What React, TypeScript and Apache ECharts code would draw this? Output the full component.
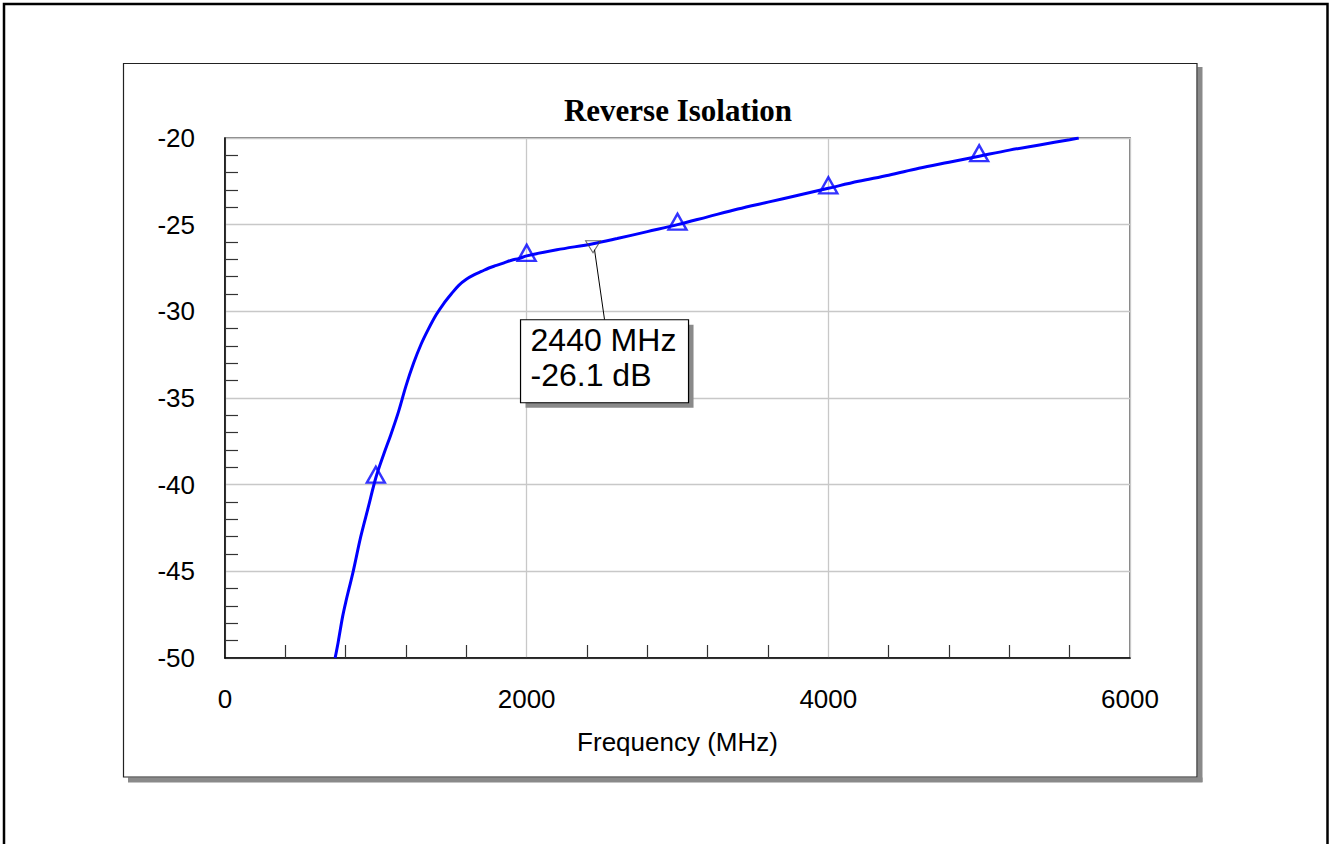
import React, { useEffect, useRef } from "react";
import * as echarts from "echarts";

// Measured reverse isolation (S12) trace, MHz vs dB
const freqMHz = [
  730, 750, 780, 800, 850, 900, 950, 1000, 1050, 1100, 1150, 1200, 1250, 1300,
  1350, 1400, 1450, 1500, 1550, 1600, 1650, 1700, 1750, 1800, 1850, 1900, 1950,
  2000, 2200, 2440, 2600, 2800, 3000, 3200, 3400, 3600, 3800, 4000, 4200, 4400,
  4600, 4800, 5000, 5200, 5400, 5600, 5660,
];
const isolationDb = [
  -50.0, -49.1, -47.6, -46.8, -45.0, -43.0, -41.3, -39.6, -38.3, -37.1, -35.8,
  -34.3, -33.0, -31.9, -31.0, -30.2, -29.55, -29.0, -28.5, -28.15, -27.9, -27.7,
  -27.5, -27.35, -27.2, -27.05, -26.95, -26.8, -26.45, -26.1, -25.8, -25.4,
  -25.0, -24.55, -24.1, -23.7, -23.3, -22.9, -22.5, -22.15, -21.75, -21.4,
  -21.05, -20.7, -20.4, -20.1, -20.0,
];

// Trace symbols (up triangles)
const markerFreqs = [1000, 2000, 3000, 4000, 5000];
const markerDb = [-39.6, -26.8, -25.0, -22.9, -21.05];

// Marker readout
const readoutFreq = 2440;
const readoutDb = -26.1;
const readoutLines = ["2440 MHz", "-26.1 dB"];

// Axes
const xMin = 0;
const xMax = 6000;
const xStep = 2000;
const yMin = -50;
const yMax = -20;
const yStep = 5;

const titleText = "Reverse Isolation";
const xAxisTitle = "Frequency (MHz)";

export default function App() {
  const ref = useRef<HTMLDivElement>(null);

  useEffect(() => {
    document.body.style.margin = "0";
    if (!ref.current) return;
    const chart = echarts.init(ref.current, undefined, { renderer: "svg" });
    const sans = "'Liberation Sans', Arial, sans-serif";

    const option: any = {
      animation: false,
      backgroundColor: "#ffffff",
      title: {
        text: titleText,
        left: 673,
        top: 90,
        textAlign: "center",
        textStyle: {
          fontFamily: "'Liberation Serif', 'Times New Roman', serif",
          fontWeight: "bold",
          fontSize: 31,
          color: "#000",
        },
      },
      grid: {
        left: 225,
        top: 138,
        width: 905,
        height: 520,
        show: true,
        borderColor: "#555",
        borderWidth: 1.5,
        containLabel: false,
        outerBoundsMode: "none",
      },
      xAxis: {
        type: "value",
        min: xMin,
        max: xMax,
        interval: xStep,
        name: xAxisTitle,
        nameLocation: "middle",
        nameGap: 71,
        nameTextStyle: { fontFamily: sans, fontSize: 26, color: "#000" },
        axisLine: { show: true, onZero: false, lineStyle: { color: "#000", width: 1.5 } },
        axisTick: { show: false, inside: true },
        minorTick: { show: true, splitNumber: 5, length: 13, lineStyle: { color: "#333", width: 1.2 } },
        splitLine: { show: true, lineStyle: { color: "#c8c8c8", width: 1.3 } },
        axisLabel: {
          fontFamily: sans,
          fontSize: 26,
          color: "#000",
          margin: 28,
          showMinLabel: true,
          showMaxLabel: true,
          formatter: (v: number) => String(v),
        },
      },
      yAxis: {
        type: "value",
        min: yMin,
        max: yMax,
        interval: yStep,
        axisLine: { show: true, onZero: false, lineStyle: { color: "#000", width: 1.5 } },
        axisTick: { show: false, inside: true },
        minorTick: { show: true, splitNumber: 5, length: 13, lineStyle: { color: "#333", width: 1.2 } },
        splitLine: { show: true, lineStyle: { color: "#c8c8c8", width: 1.3 } },
        axisLabel: {
          fontFamily: sans,
          fontSize: 26,
          color: "#000",
          margin: 30,
          padding: [12, 0, 0, 0],
          showMinLabel: true,
          showMaxLabel: true,
          formatter: (v: number) => String(v),
        },
      },
      series: [
        {
          type: "line",
          data: freqMHz.map((f, i) => [f, isolationDb[i]]),
          showSymbol: false,
          symbol: "none",
          smooth: 0.35,
          clip: true,
          lineStyle: { color: "#0000ff", width: 3 },
          z: 3,
        },
        {
          type: "scatter",
          data: markerFreqs.map((f, i) => [f, markerDb[i]]),
          symbol: "triangle",
          symbolSize: [18, 16],
          symbolOffset: [0, -3],
          itemStyle: { color: "rgba(255,255,255,0)", borderColor: "#0000ff", borderWidth: 2.4 },
          z: 4,
        },
        {
          type: "scatter",
          data: [[readoutFreq, readoutDb]],
          symbol: "triangle",
          symbolRotate: 180,
          symbolSize: [15, 12],
          symbolOffset: [0, 3],
          itemStyle: { color: "rgba(255,255,255,0)", borderColor: "#444", borderWidth: 1 },
          z: 5,
        },
      ],
    };
    chart.setOption(option);

    const p = chart.convertToPixel({ gridIndex: 0 }, [readoutFreq, readoutDb]) as number[];
    const bx = p[0] - 72.5;
    const by = p[1] + 76;
    const bw = 168;
    const bh = 83;

    chart.setOption({
      graphic: [
        {
          type: "rect",
          shape: { x: 4, y: 4, width: 1323.5, height: 880 },
          style: { fill: "none", stroke: "#000", lineWidth: 2.5 },
          silent: true,
          z: 0,
        },
        {
          type: "rect",
          shape: { x: 1197.5, y: 67, width: 5, height: 715 },
          style: { fill: "#8a8a8a" },
          silent: true,
          z: 0,
        },
        {
          type: "rect",
          shape: { x: 128, y: 777.5, width: 1074.5, height: 5 },
          style: { fill: "#8a8a8a" },
          silent: true,
          z: 0,
        },
        {
          type: "rect",
          shape: { x: 123.5, y: 63.5, width: 1073.5, height: 713.5 },
          style: { fill: "none", stroke: "#222", lineWidth: 1.2 },
          silent: true,
          z: 0,
        },
        {
          type: "line",
          shape: { x1: p[0] + 1.5, y1: p[1] + 6, x2: bx + 84, y2: by },
          style: { stroke: "#000", lineWidth: 1 },
          silent: true,
          z: 100,
        },
        {
          type: "rect",
          shape: { x: bx + 5, y: by + 5, width: bw, height: bh },
          style: { fill: "#8a8a8a" },
          silent: true,
          z: 100,
        },
        {
          type: "rect",
          shape: { x: bx, y: by, width: bw, height: bh },
          style: { fill: "#fff", stroke: "#000", lineWidth: 1.2 },
          silent: true,
          z: 101,
        },
        {
          type: "text",
          x: bx + 10,
          y: by + 3,
          style: {
            text: readoutLines.join("\n"),
            fontFamily: sans,
            fontSize: 32,
            lineHeight: 35,
            fill: "#000",
            textAlign: "left",
            textVerticalAlign: "top",
          },
          silent: true,
          z: 102,
        },
      ],
    });

    return () => {
      chart.dispose();
    };
  }, []);

  return <div ref={ref} style={{ width: 1330, height: 844 }} />;
}
